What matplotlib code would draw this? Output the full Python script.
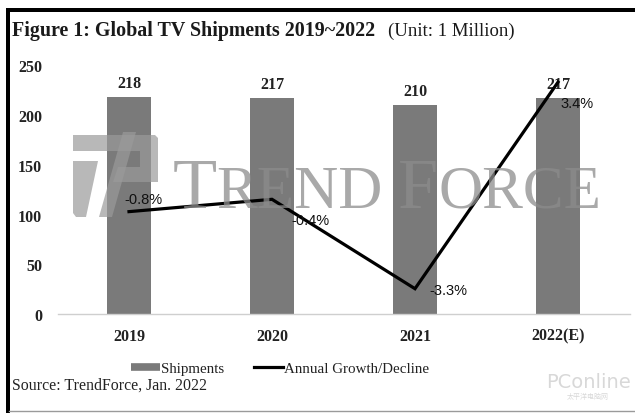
import matplotlib
matplotlib.use("Agg")
import matplotlib.pyplot as plt
from matplotlib.lines import Line2D
from matplotlib.patches import Rectangle, Polygon

# ---- data ----
years = ["2019", "2020", "2021", "2022(E)"]
shipments = [218, 217, 210, 217]
growth = [-0.8, -0.4, -3.3, 3.4]
growth_labels = ["-0.8%", "-0.4%", "-3.3%", "3.4%"]
yticks = [0, 50, 100, 150, 200, 250]

# ---- style ----
W, H = 635, 414
BAR_C = "#7a7a7a"
TXT_C = "#222222"
SERIF = "Liberation Serif"
SANS = "Liberation Sans"
label_offsets = [(-3.5, 9), (14, -15), (10.5, -1), (1.5, -15)]

fig = plt.figure(figsize=(W / 100, H / 100), dpi=100)
fig.patch.set_facecolor("white")

def px(x, y):
    return x / W, 1 - y / H

# frame
fig.add_artist(Rectangle(px(6, 13), (W - 6) / W, 4 / H, transform=fig.transFigure,
                         color="black", lw=0, zorder=0))
fig.add_artist(Rectangle(px(6, 414), 3.5 / W, (414 - 9) / H, transform=fig.transFigure,
                         color="black", lw=0, zorder=0))
fig.add_artist(Line2D([9 / W, 1], [1 - 411.5 / H] * 2, transform=fig.transFigure,
                      color="#9a9a9a", lw=1.0))

# axes
l, b = px(57.5, 315)
_, t = px(0, 66.5)
ax = fig.add_axes([l, b, 572 / W, t - b])
ax.set_facecolor("none")
x = range(len(years))
bars = ax.bar(x, shipments, width=0.31, color=BAR_C, zorder=2)
ax.set_xlim(-0.5, 3.5)
ax.set_ylim(0, 250)
ax.set_yticks(yticks)
ax.set_xticks(list(x))
ax.set_xticklabels(years)
for s in ["top", "right", "left"]:
    ax.spines[s].set_visible(False)
ax.spines["bottom"].set_color("#cfcfcf")
ax.spines["bottom"].set_linewidth(1.0)
ax.tick_params(axis="both", length=0)
ax.tick_params(axis="y", pad=11, labelsize=11.5, labelcolor=TXT_C)
ax.tick_params(axis="x", pad=10, labelsize=11.5, labelcolor=TXT_C)
for lab in ax.get_yticklabels() + ax.get_xticklabels():
    lab.set_fontfamily(SERIF)
    lab.set_fontweight("bold")

for xi, v in zip(x, shipments):
    ax.annotate(str(v), (xi, v), xytext=(0, 4.5), textcoords="offset points",
                ha="center", va="bottom", fontsize=11.5, fontfamily=SERIF,
                fontweight="bold", color=TXT_C, zorder=5)

ax2 = ax.twinx()
ax2.set_ylim(-4.12, 3.94)
ax2.axis("off")
ax2.plot(list(x), growth, color="black", lw=2.3, zorder=4, solid_joinstyle="miter")
for xi, g, lab, off in zip(x, growth, growth_labels, label_offsets):
    ax2.annotate(lab, (xi, g), xytext=off, textcoords="offset points",
                 ha="left", va="center", fontsize=10.5, fontfamily=SANS,
                 color="#111111", zorder=5)

# watermark text
wm_c = "#8c8c8c"
fig.text(173 / W, 1 - 208 / H, "T", fontsize=52, fontfamily=SERIF, color=wm_c,
         alpha=0.75, zorder=1)
fig.text(216 / W, 1 - 208 / H, "REND", fontsize=44, fontfamily=SERIF, color=wm_c,
         alpha=0.75, zorder=1)
fig.text(398 / W, 1 - 208 / H, "F", fontsize=52, fontfamily=SERIF, color=wm_c,
         alpha=0.75, zorder=1)
fig.text(439 / W, 1 - 208 / H, "ORCE", fontsize=44, fontfamily=SERIF, color=wm_c,
         alpha=0.75, zorder=1)
# rough logo
logo = [
    [(73, 136), (155, 136), (158, 139), (158, 152), (73, 152), (73, 136)],
    [(73, 162), (98, 162), (86, 218), (76, 218), (73, 214)],
    [(123, 133), (136, 133), (112, 218), (99, 218)],
    [(118, 168), (158, 168), (158, 183), (113, 183)],
    [(140, 152), (158, 152), (158, 168), (140, 168)],
]
for poly in logo:
    fig.add_artist(Polygon([px(a, c) for a, c in poly], closed=True,
                           transform=fig.transFigure, color="#9a9a9a",
                           alpha=0.7, lw=0, zorder=1))

# title
fig.text(12 / W, 1 - 31 / H, "Figure 1: Global TV Shipments 2019~2022", fontsize=14.4,
         fontfamily=SERIF, fontweight="bold", color="#1a1a1a", va="center")
fig.text(388 / W, 1 - 31 / H, "(Unit: 1 Million)", fontsize=13.5,
         fontfamily=SERIF, color="#1a1a1a", va="center")

# legend
handles = [Line2D([], [], color=BAR_C, lw=5.5, solid_capstyle="butt"),
           Line2D([], [], color="black", lw=2.3)]
fig.legend(handles, ["Shipments", "Annual Growth/Decline"], loc="center",
           bbox_to_anchor=(280 / W, 1 - 369 / H), ncol=2, frameon=False,
           prop={"family": SERIF, "size": 10.8}, handlelength=1.95,
           handletextpad=0.05, columnspacing=2.0, labelcolor=TXT_C)

# source
fig.text(12 / W, 1 - 386 / H, "Source: TrendForce, Jan. 2022", fontsize=11.4,
         fontfamily=SERIF, color=TXT_C, va="center")
# pconline watermark
fig.text(588 / W, 1 - 383 / H, "PConline", fontsize=14, fontfamily="DejaVu Sans",
         color="#d8d8d8", ha="center", va="center")
fig.text(588 / W, 1 - 397 / H, "太平洋电脑网", fontsize=5,
         fontfamily=["Noto Sans CJK SC", "DejaVu Sans"], color="#d8d8d8",
         ha="center", va="center")

fig.savefig("out.png", dpi=100, facecolor="white")
